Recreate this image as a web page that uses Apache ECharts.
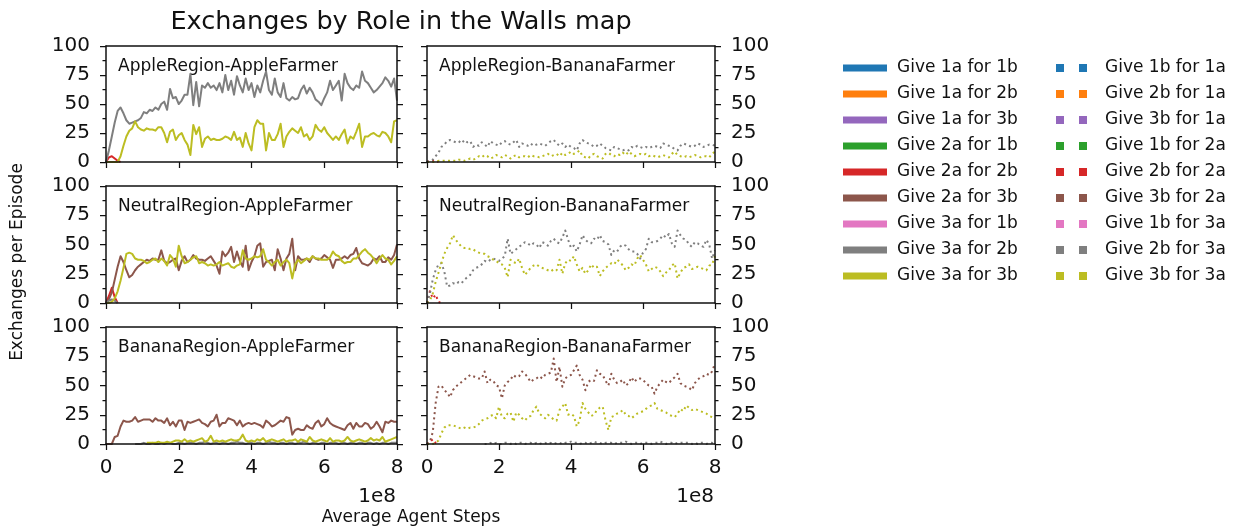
<!DOCTYPE html>
<html><head><meta charset="utf-8">
<script src="https://cdn.jsdelivr.net/npm/echarts@6/dist/echarts.min.js"></script>
<style>html,body{margin:0;padding:0;background:#fff}#c{width:1240px;height:531px}</style>
</head><body><div id="c"></div>
<script>
// ---------- data ----------
// x sampling interval, in units of 1e8 agent steps
const X_STEP = 0.08;
const X_TICKS = [0, 2, 4, 6, 8];
const Y_TICKS = [0, 25, 50, 75, 100];

const SOLID_NAMES = ['Give 1a for 1b','Give 1a for 2b','Give 1a for 3b','Give 2a for 1b','Give 2a for 2b','Give 2a for 3b','Give 3a for 1b','Give 3a for 2b','Give 3a for 3b'];
const DOTTED_NAMES = ['Give 1b for 1a','Give 2b for 1a','Give 3b for 1a','Give 1b for 2a','Give 2b for 2a','Give 3b for 2a','Give 1b for 3a','Give 2b for 3a','Give 3b for 3a'];
const COLORS = ['#1f77b4','#ff7f0e','#9467bd','#2ca02c','#d62728','#8c564b','#e377c2','#7f7f7f','#bcbd22'];

const PANEL_TITLES = ['AppleRegion-AppleFarmer','AppleRegion-BananaFarmer','NeutralRegion-AppleFarmer','NeutralRegion-BananaFarmer','BananaRegion-AppleFarmer','BananaRegion-BananaFarmer'];

// AppleRegion-AppleFarmer
const aa_2a2b = [0,4,5,3,1,0];
const aa_3a2b = [0,10,22,34,44,47,42,36,33,34,35,36,38,43,42,45,44,47,45,
 50,52,45,63,55,56,50,53,58,
 58,76,49,69,48,66,
 64,68,64,66,62,68,60,75,62,70,58,74,66,60,72,62,68,56,66,60,70,78,62,58,72,60,56,68,
 55,53,56,54,55,62,66,59,64,60,54,52,49,55,60,
 70,62,66,70,53,76,68,64,62,66,64,78,70,68,64,60,62,65,68,73,70,65,72,53];
const aa_3a3b = [0,0,0,0,0,5,14,22,27,29,35,30,28,27,29,28,28,27,30,30,
 25,17,26,28,19,23,25,19,15,
 6,32,24,30,13,20,22,19,20,19,
 19,20,22,21,19,26,19,21,13,25,16,
 10,30,36,33,33,10,25,19,19,24,
 33,13,22,26,29,27,25,30,22,24,19,22,32,28,26,30,25,22,19,22,
 19,24,28,16,22,20,26,33,13,22,22,24,25,23,22,26,25,22,17,35,36];

// AppleRegion-BananaFarmer
const ab_2b2a = [0,1,1,1,0];
const ab_2b3a = [0,1,2,5,8,13,15,18,19,18,
 17,18,16,19,17,18,13,15,14,17,
 15,13,18,16,15,14,17,18,16,15,
 17,19,13,16,15,14,16,14,15,16,
 15,14,16,18,19,16,14,16,13,15,
 13,12,10,16,19,17,16,15,13,14,
 16,14,12,11,10,13,12,11,10,11,
 10,13,12,14,13,12,13,12,13,14,
 13,12,16,15,14,13,11,10,14,16,
 15,14,13,14,16,15,13,14,15,15,14];
const ab_3b3a = [0,0,0,0,1,1,1,1,1,1,
 1,2,2,1,2,3,2,3,5,4,
 6,5,3,4,6,5,4,6,5,3,
 5,6,4,5,5,4,6,5,5,4,
 5,6,7,5,6,7,5,8,6,7,
 9,7,8,10,5,4,3,6,7,5,
 4,3,7,8,6,5,7,6,8,6,
 9,7,5,6,7,6,7,5,6,5,
 4,5,6,5,4,7,9,6,5,4,
 5,4,5,6,5,4,5,5,4,7,9];

// NeutralRegion-AppleFarmer
const na_2a2b = [0,6,13,5,0];
const na_2a3b = [0,3,9,20,31,40,35,28,22,24,
 28,31,33,35,37,36,38,37,37,45,
 36,34,35,37,38,28,36,40,35,37,
 41,38,37,37,36,38,40,36,32,25,
 44,40,43,48,35,44,36,31,49,28,
 35,40,49,51,31,35,36,37,28,46,
 38,28,38,42,55,28,40,37,37,38,
 35,40,38,37,38,41,39,37,30,37,
 37,38,40,38,41,42,47,38,34,33,
 32,34,38,37,40,35,35,39,37,41,50];
const na_3a2b = [0,2,3,2,0];
const na_3a3b = [0,0,1,4,10,19,30,42,43,42,
 38,37,37,36,34,35,37,38,35,38,
 36,32,41,38,31,49,40,34,35,37,
 39,40,34,35,34,32,33,32,33,35,
 32,33,34,31,30,32,33,45,38,37,
 38,40,39,40,46,37,35,32,35,37,
 32,35,37,34,21,33,37,34,36,38,
 37,40,38,38,37,37,37,39,44,41,
 40,36,34,35,35,38,38,41,44,46,
 43,41,38,34,38,41,38,37,33,36,40];

// NeutralRegion-BananaFarmer
const nb_2b2a = [0,10,4,7,1,0];
const nb_2b3a = [0,8,20,28,33,34,27,14,15,17,
 16,18,17,20,22,24,28,30,31,33,
 36,35,37,38,37,36,38,40,55,42,
 44,46,48,50,52,51,49,51,50,47,
 52,51,49,53,55,52,51,56,62,54,
 47,49,44,50,58,54,52,51,55,54,
 58,53,52,50,41,45,44,48,50,49,
 46,44,44,42,38,43,46,55,52,52,
 53,55,58,56,59,51,48,62,58,55,
 54,50,48,52,51,49,48,54,50,38,45];
const nb_3b3a = [0,2,8,18,26,34,42,47,51,58,
 54,51,48,47,47,46,46,44,43,42,
 42,40,39,37,36,34,33,30,22,37,
 35,34,38,30,24,27,30,32,33,31,
 30,29,28,27,29,28,37,25,34,37,
 36,40,33,27,30,25,28,33,30,31,
 23,27,30,32,34,33,37,35,32,28,
 30,33,32,38,41,37,33,27,29,31,
 30,27,23,26,28,32,34,21,26,30,
 31,33,29,30,31,30,29,28,32,33,40];

// BananaRegion-AppleFarmer
const ba_2a3b = [0,0,0,6,7,15,20,19,19,20,
 23,19,20,21,21,21,19,22,20,20,
 18,22,16,19,15,20,20,12,19,18,
 19,20,21,18,17,15,19,20,25,15,
 18,18,22,21,20,16,20,15,17,18,
 17,18,17,16,14,20,18,15,16,18,
 20,19,23,22,8,12,13,12,12,16,
 14,13,18,20,15,17,22,18,16,15,
 14,13,12,16,18,13,18,15,15,18,
 17,13,15,19,15,10,19,18,20,19,19];
const ba_3a2b = [null,null,null,null,null,null,null,null,null,null,
 0,0,0,1,0,0,1,0,0,1,
 0,1,1,0,0,1,1,0,1,1,
 1,0,1,1,2,1,0,1,1,0,
 1,1,0,1,1,2,1,1,0,1,
 1,0,1,1,0,1,2,1,1,0,
 1,1,0,1,1,0,1,1,2,1,
 0,1,1,0,1,1,0,1,1,1,
 0,1,1,0,1,1,0,1,1,0,
 1,1,0,1,0,1,1,0,1,1,1];
const ba_3a3b = [null,null,null,null,null,null,null,null,null,null,null,null,null,null,
 1,1,1,1,2,1,
 1,2,1,2,3,3,2,4,2,3,
 2,3,4,5,2,3,7,2,3,2,
 3,2,3,4,3,3,4,8,3,2,
 3,2,4,3,5,2,3,4,3,2,
 3,4,2,3,3,4,2,4,3,2,
 6,3,2,3,4,3,2,5,2,3,
 3,2,3,6,3,2,3,4,3,2,
 3,5,3,4,3,6,2,3,4,5,6];

// BananaRegion-BananaFarmer
const bb_2b2a = [0,2,4,1,0];
const bb_3b2a = [0,2,10,35,49,50,46,44,40,46,
 49,51,53,55,57,59,58,57,56,56,
 62,52,55,54,50,49,39,50,53,55,
 59,57,58,62,60,57,53,55,56,58,
 56,59,60,61,73,53,66,49,56,58,
 59,63,67,59,55,46,53,55,54,63,
 60,59,54,50,60,55,52,53,55,50,
 52,57,53,56,56,55,52,50,49,43,
 49,52,55,53,52,55,57,60,52,50,
 49,48,46,52,55,57,58,60,59,62,69];
const bb_2b3a = [null,null,null,null,null,null,null,null,null,null,
 null,null,null,null,null,null,null,null,null,null,
 0,0,1,0,1,0,0,1,1,0,
 1,0,1,1,0,1,1,0,1,0,
 1,1,0,1,0,1,1,0,1,1,
 2,1,1,0,1,1,0,1,2,1,
 1,0,1,1,1,0,1,1,1,2,
 1,0,1,1,0,1,1,1,0,1,
 1,2,1,0,1,1,0,1,1,1,
 1,1,0,1,0,1,1,0,1,1,0];
const bb_3b3a = [0,0,0,1,3,9,14,16,16,16,
 15,14,13,14,13,14,14,15,17,20,
 21,22,24,25,22,32,23,22,26,27,
 19,27,25,22,20,23,24,29,32,26,
 24,22,25,23,21,20,29,32,35,25,
 26,24,15,20,35,30,27,24,25,29,
 31,32,20,12,23,24,26,27,29,25,
 24,22,24,26,27,28,30,32,33,35,
 30,29,28,27,25,24,23,26,30,28,
 33,31,29,30,29,28,27,26,24,23,22];

const PANEL_LINES = [
  [['Give 2a for 2b', aa_2a2b], ['Give 3a for 2b', aa_3a2b], ['Give 3a for 3b', aa_3a3b]],
  [['Give 2b for 2a', ab_2b2a], ['Give 2b for 3a', ab_2b3a], ['Give 3b for 3a', ab_3b3a]],
  [['Give 2a for 2b', na_2a2b], ['Give 2a for 3b', na_2a3b], ['Give 3a for 2b', na_3a2b], ['Give 3a for 3b', na_3a3b]],
  [['Give 2b for 2a', nb_2b2a], ['Give 2b for 3a', nb_2b3a], ['Give 3b for 3a', nb_3b3a]],
  [['Give 2a for 3b', ba_2a3b], ['Give 3a for 2b', ba_3a2b], ['Give 3a for 3b', ba_3a3b]],
  [['Give 2b for 2a', bb_2b2a], ['Give 3b for 2a', bb_3b2a], ['Give 2b for 3a', bb_2b3a], ['Give 3b for 3a', bb_3b3a]]
];

// ---------- layout / style ----------
const FONT = 'DejaVu Sans';
const INK = '#111111';
const COL_LEFT = [106, 427], COL_W = [291, 288];
const ROW_TOP = [46, 186, 327], ROW_H = [116, 117, 117];

const colorOf = {};
SOLID_NAMES.forEach((n, i) => colorOf[n] = COLORS[i]);
DOTTED_NAMES.forEach((n, i) => colorOf[n] = COLORS[i]);

const grids = [], xAxes = [], yAxes = [], series = [], graphics = [];
const lineAxisStyle = { color: INK, width: 1.5 };
const tickStyle = { color: INK, width: 1.25 };
const labelStyle = { fontSize: 20, color: INK, fontFamily: FONT };

for (let p = 0; p < 6; p++) {
  const r = Math.floor(p / 2), c = p % 2;
  grids.push({ left: COL_LEFT[c], top: ROW_TOP[r], width: COL_W[c], height: ROW_H[r], containLabel: false });
  xAxes.push({ gridIndex: p, type: 'value', position: 'bottom', min: X_TICKS[0], max: X_TICKS[X_TICKS.length-1], interval: X_TICKS[1]-X_TICKS[0],
    axisLine: { show: true, onZero: false, lineStyle: lineAxisStyle }, axisTick: { show: true, length: 6, lineStyle: tickStyle },
    axisLabel: Object.assign({ show: r === 2, margin: 14 }, labelStyle), splitLine: { show: false }, z: 5 });
  xAxes.push({ gridIndex: p, type: 'value', position: 'top', min: X_TICKS[0], max: X_TICKS[X_TICKS.length-1],
    axisLine: { show: true, onZero: false, lineStyle: lineAxisStyle }, axisTick: { show: false }, axisLabel: { show: false }, splitLine: { show: false }, z: 5 });
  ['left', 'right'].forEach((pos, k) => {
    yAxes.push({ gridIndex: p, type: 'value', position: pos, min: Y_TICKS[0], max: Y_TICKS[Y_TICKS.length-1], interval: Y_TICKS[1]-Y_TICKS[0],
      axisLine: { show: true, onZero: false, lineStyle: lineAxisStyle }, axisTick: { show: true, length: 6, lineStyle: tickStyle },
      minorTick: { show: true, splitNumber: 2, length: 3.5, lineStyle: tickStyle },
      axisLabel: Object.assign({ show: k === c, margin: 16 }, labelStyle), splitLine: { show: false }, minorSplitLine: { show: false }, z: 5 });
  });
  const dotted = c === 1;
  PANEL_LINES[p].forEach(([name, vals]) => {
    series.push({ name, type: 'line', xAxisIndex: 2*p, yAxisIndex: 2*p, symbol: 'none', showSymbol: false,
      data: vals.map((v, i) => [+(i * X_STEP).toFixed(2), v]),
      lineStyle: { color: colorOf[name], width: 2, type: dotted ? [2, 3.3] : 'solid', cap: 'butt', join: 'round' },
      itemStyle: { color: colorOf[name] }, emphasis: { disabled: true }, silent: true, z: 2 });
  });
  graphics.push({ type: 'text', x: COL_LEFT[c] + 12, y: ROW_TOP[r] + 21,
    style: { text: PANEL_TITLES[p], fontSize: 17, fontFamily: FONT, fill: INK, align: 'left', verticalAlign: 'middle' } });
}
// legend-only entries for roles that have no visible curve
const present = new Set(series.map(s => s.name));
SOLID_NAMES.concat(DOTTED_NAMES).forEach(n => {
  if (!present.has(n)) series.push({ name: n, type: 'line', xAxisIndex: 0, yAxisIndex: 0, data: [], symbol: 'none',
    lineStyle: { color: colorOf[n] }, itemStyle: { color: colorOf[n] } });
});

graphics.push(
  { type: 'text', x: 401, y: 22, style: { text: 'Exchanges by Role in the Walls map', fontSize: 25.5, fontFamily: FONT, fill: INK, align: 'center', verticalAlign: 'middle' } },
  { type: 'text', x: 396, y: 497, style: { text: '1e8', fontSize: 20, fontFamily: FONT, fill: INK, align: 'right', verticalAlign: 'middle' } },
  { type: 'text', x: 714, y: 497, style: { text: '1e8', fontSize: 20, fontFamily: FONT, fill: INK, align: 'right', verticalAlign: 'middle' } },
  { type: 'text', x: 411, y: 518, style: { text: 'Average Agent Steps', fontSize: 17, fontFamily: FONT, fill: INK, align: 'center', verticalAlign: 'middle' } },
  { type: 'text', x: 18, y: 262, rotation: Math.PI / 2, style: { text: 'Exchanges per Episode', fontSize: 17, fontFamily: FONT, fill: INK, align: 'center', verticalAlign: 'middle' } }
);

const legendText = { fontSize: 17, fontFamily: FONT, color: INK, lineHeight: 20 };
const option = {
  animation: false,
  backgroundColor: '#ffffff',
  grid: grids, xAxis: xAxes, yAxis: yAxes, series,
  legend: [
    { data: SOLID_NAMES, orient: 'vertical', left: 843, top: 58, padding: 0, itemGap: 6, itemWidth: 44, itemHeight: 7,
      icon: 'rect', itemStyle: { borderWidth: 0 }, selectedMode: false, textStyle: Object.assign({ padding: [0, 0, 0, 5] }, legendText) },
    { data: DOTTED_NAMES, orient: 'vertical', left: 1056, top: 58, padding: 0, itemGap: 6, itemWidth: 31, itemHeight: 8,
      icon: 'path://M0,0h8v8h-8zM23,0h8v8h-8z', itemStyle: { borderWidth: 0 }, selectedMode: false, textStyle: Object.assign({ padding: [0, 0, 0, 13] }, legendText) }
  ],
  graphic: graphics
};
const chart = echarts.init(document.getElementById('c'), null, { renderer: 'canvas' });
chart.setOption(option);
</script></body></html>
